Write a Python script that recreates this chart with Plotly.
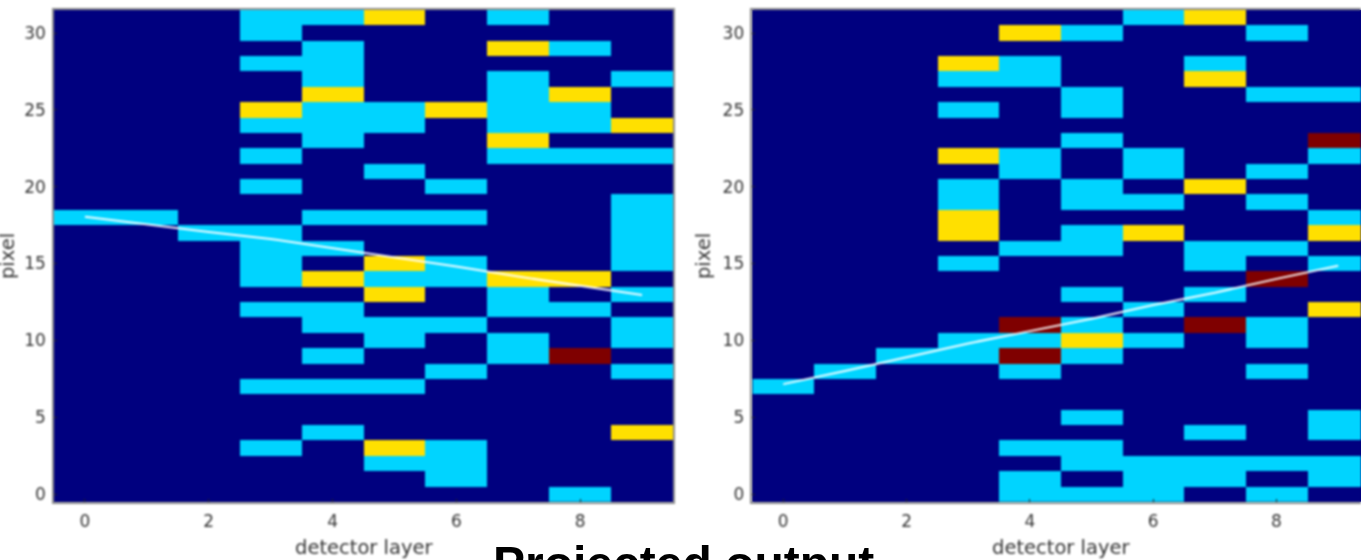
import plotly.graph_objects as go

layers = [0, 1, 2, 3, 4, 5, 6, 7, 8, 9]
pixels = list(range(32))

# rows listed from pixel 31 (top) down to pixel 0; 0 empty, 1 cyan, 2 yellow, 3 dark red
left_rows_top_down = [
    [0,0,0,1,1,2,0,1,0,0],
    [0,0,0,1,0,0,0,0,0,0],
    [0,0,0,0,1,0,0,2,1,0],
    [0,0,0,1,1,0,0,0,0,0],
    [0,0,0,0,1,0,0,1,0,1],
    [0,0,0,0,2,0,0,1,2,0],
    [0,0,0,2,1,1,2,1,1,0],
    [0,0,0,1,1,1,0,1,1,2],
    [0,0,0,0,1,0,0,2,0,0],
    [0,0,0,1,0,0,0,1,1,1],
    [0,0,0,0,0,1,0,0,0,0],
    [0,0,0,1,0,0,1,0,0,0],
    [0,0,0,0,0,0,0,0,0,1],
    [1,1,0,0,1,1,1,0,0,1],
    [0,0,1,1,0,0,0,0,0,1],
    [0,0,0,1,1,0,0,0,0,1],
    [0,0,0,1,0,2,1,0,0,1],
    [0,0,0,1,2,1,1,2,2,0],
    [0,0,0,0,0,2,0,1,0,1],
    [0,0,0,1,1,0,0,1,1,0],
    [0,0,0,0,1,1,1,0,0,1],
    [0,0,0,0,0,1,0,1,0,1],
    [0,0,0,0,1,0,0,1,3,0],
    [0,0,0,0,0,0,1,0,0,1],
    [0,0,0,1,1,1,0,0,0,0],
    [0,0,0,0,0,0,0,0,0,0],
    [0,0,0,0,0,0,0,0,0,0],
    [0,0,0,0,1,0,0,0,0,2],
    [0,0,0,1,0,2,1,0,0,0],
    [0,0,0,0,0,1,1,0,0,0],
    [0,0,0,0,0,0,1,0,0,0],
    [0,0,0,0,0,0,0,0,1,0],
]
right_rows_top_down = [
    [0,0,0,0,0,0,1,2,0,0],
    [0,0,0,0,2,1,0,0,1,0],
    [0,0,0,0,0,0,0,0,0,0],
    [0,0,0,2,1,0,0,1,0,0],
    [0,0,0,1,1,0,0,2,0,0],
    [0,0,0,0,0,1,0,0,1,1],
    [0,0,0,1,0,1,0,0,0,0],
    [0,0,0,0,0,0,0,0,0,0],
    [0,0,0,0,0,1,0,0,0,3],
    [0,0,0,2,1,0,1,0,0,1],
    [0,0,0,0,1,0,1,0,1,0],
    [0,0,0,1,0,1,0,2,0,0],
    [0,0,0,1,0,1,1,0,1,0],
    [0,0,0,2,0,0,0,0,0,1],
    [0,0,0,2,0,1,2,0,0,2],
    [0,0,0,0,1,1,0,1,1,0],
    [0,0,0,1,0,0,0,1,0,1],
    [0,0,0,0,0,0,0,0,3,0],
    [0,0,0,0,0,1,0,1,0,0],
    [0,0,0,0,0,0,1,0,0,2],
    [0,0,0,0,3,1,0,3,1,0],
    [0,0,0,1,1,2,1,0,1,0],
    [0,0,1,1,3,1,0,0,0,0],
    [0,1,0,0,1,0,0,0,1,0],
    [1,0,0,0,0,0,0,0,0,0],
    [0,0,0,0,0,0,0,0,0,0],
    [0,0,0,0,0,1,0,0,0,1],
    [0,0,0,0,0,0,0,1,0,1],
    [0,0,0,0,1,1,0,0,0,0],
    [0,0,0,0,0,1,1,1,1,1],
    [0,0,0,0,1,0,1,1,0,1],
    [0,0,0,0,1,1,1,0,1,0],
]
left_track = [18.05, 17.55, 17.05, 16.6, 16.0, 15.4, 14.8, 14.15, 13.55, 12.95]
right_track = [7.15, 8.0, 8.9, 9.8, 10.6, 11.4, 12.3, 13.1, 14.0, 14.85]

x_ticks = [0, 2, 4, 6, 8]
y_ticks = [0, 5, 10, 15, 20, 25, 30]
x_title = "detector layer"
y_title = "pixel"
caption = "Projected output"

NAVY, CYAN, YELLOW, RED = "#00007f", "#00d4ff", "#ffe000", "#7f0000"
scale = [[0, NAVY], [0.25, NAVY], [0.25, CYAN], [0.5, CYAN],
         [0.5, YELLOW], [0.75, YELLOW], [0.75, RED], [1, RED]]

W, H = 1361, 560
TOP, BOTTOM = 10, 503.5
TEXT = "#333333"
SPINE = "#8c8c8c"
TICKF = dict(family="DejaVu Sans", size=17, color=TEXT)
LABELF = dict(family="DejaVu Sans", size=19.5, color=TEXT)

fig = go.Figure()
for rows, track, xa, ya in [(left_rows_top_down, left_track, "x", "y"),
                            (right_rows_top_down, right_track, "x2", "y2")]:
    fig.add_trace(go.Heatmap(z=rows[::-1], x=layers, y=pixels, xaxis=xa, yaxis=ya,
                             colorscale=scale, zmin=0, zmax=4, showscale=False,
                             zsmooth=False, hoverinfo="skip"))
    fig.add_trace(go.Scatter(x=layers, y=track, xaxis=xa, yaxis=ya, mode="lines",
                             line=dict(color="rgba(255,255,255,0.95)", width=2),
                             showlegend=False, hoverinfo="skip"))

xcommon = dict(tickmode="array", tickvals=x_ticks, ticks="inside", ticklen=3, tickcolor="#222",
               tickfont=TICKF, ticklabelstandoff=3, showgrid=False, zeroline=False, showline=True,
               linecolor=SPINE, linewidth=1.5, mirror=True)
ycommon = dict(tickmode="array", tickvals=y_ticks, ticks="inside", ticklen=3, tickcolor="#222",
               tickfont=TICKF, showgrid=False, zeroline=False, showline=True,
               linecolor=SPINE, linewidth=1.5, range=[-0.5, 31.5], ticklabelstandoff=3,
               domain=[1 - BOTTOM / H, 1 - TOP / H])


def label(text, x, y, angle=0):
    return dict(text=text, x=x / W, y=1 - y / H, xref="paper", yref="paper", textangle=angle,
                xanchor="center", yanchor="middle", showarrow=False, font=LABELF)


fig.update_layout(
    width=W, height=H, margin=dict(l=0, r=0, t=0, b=0, pad=0),
    paper_bgcolor="white", plot_bgcolor=NAVY, showlegend=False,
    xaxis={**xcommon, "anchor": "y", "domain": [54 / W, 673 / W], "range": [-0.5, 9.5]},
    yaxis={**ycommon, "anchor": "x", "mirror": True},
    xaxis2={**xcommon, "anchor": "y2", "domain": [752.4 / W, 1.0], "range": [-0.5, 9.37]},
    yaxis2={**ycommon, "anchor": "x2", "mirror": False},
    font=dict(family="DejaVu Sans", color=TEXT),
    annotations=[
        label(x_title, 363.5, 549),
        label(x_title, 1061, 549),
        label(y_title, 7, 257, -90),
        label(y_title, 703, 257, -90),
        dict(text="<b>" + caption + "</b>", x=683.5 / W, y=1 - 537 / H, xref="paper", yref="paper",
             xanchor="center", yanchor="top", showarrow=False,
             font=dict(family="Liberation Sans", size=48, color="#000000")),
    ],
)

soften = """
document.body.style.margin='0';
document.documentElement.style.overflow='hidden';
var gd=document.querySelector('.plotly-graph-div');
gd.querySelectorAll('.cartesianlayer, .main-svg .infolayer .annotation').forEach(function(n){
  if(n.textContent.indexOf('Projected')<0){n.style.filter='blur(0.9px)';}
});
"""
fig.write_html("out.html", config={"displayModeBar": False}, post_script=soften)
